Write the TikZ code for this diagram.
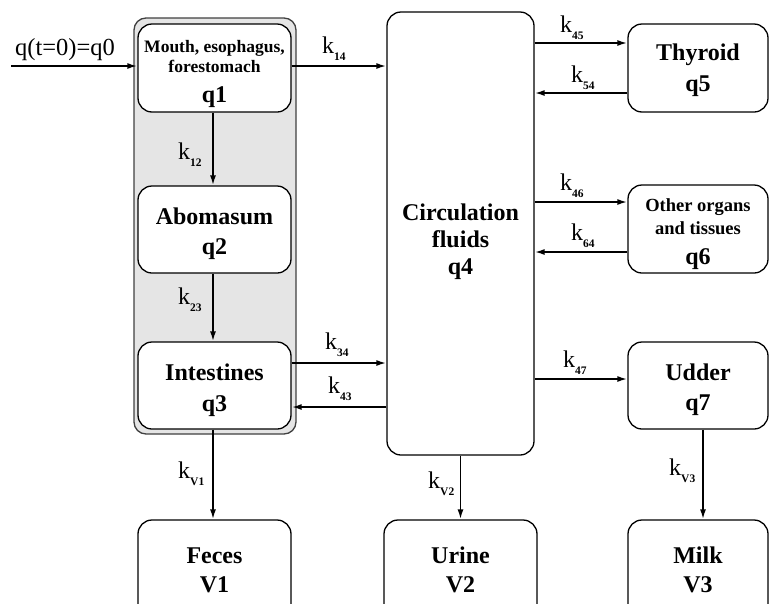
\documentclass[tikz,border=0pt]{standalone}
\usepackage{fontspec}
\setmainfont{Liberation Serif}
\usetikzlibrary{arrows.meta,calc}
\tikzset{
  box/.style={draw=black,line width=1.3pt,fill=white,rounded corners=14pt,
    minimum width=153pt,minimum height=88pt,align=center,inner sep=0pt,
    font=\fontsize{24}{30.5}\selectfont\bfseries},
  arr/.style={line width=1.8pt,-{Latex[length=10pt,width=6pt]}},
  klab/.style={anchor=base west,inner sep=0pt,font=\fontsize{24}{24}\selectfont}
}
\newcommand{\kk}[1]{k\raisebox{-7pt}{\fontsize{11.5}{11.5}\selectfont\bfseries #1}}
\newcommand{\dn}[1]{\rule{0pt}{#1}}
\begin{document}
\begin{tikzpicture}[x=1pt,y=-1pt]
\useasboundingbox (0,0) rectangle (769,603);
\clip (0,0) rectangle (769,603);
% grey container
\node[draw=black!75,line width=1.3pt,fill=black!10,rounded corners=12pt,
  minimum width=162pt,minimum height=416pt,inner sep=0pt] (gut) at (215,226) {};
% boxes
\node[box] (q1) at (214.5,68) {\dn{24pt}\fontsize{17.5}{20}\selectfont Mouth, esophagus,\\[-10.5pt]\fontsize{17.5}{20}\selectfont forestomach\\[0pt]q1};
\node[box,minimum height=87pt] (q2) at (214.5,229.5) {\dn{25pt}Abomasum\\q2};
\node[box,minimum height=87pt] (q3) at (214.5,385.5) {\dn{26pt}Intestines\\q3};
\node[box,minimum height=100pt] (v1) at (214.5,570) {Feces\\[-1.5pt]V1};
\node[box,minimum width=147pt,minimum height=443pt] (q4) at (460.5,233.5) {\\[2.5pt]Circulation\\[-3.5pt]fluids\\[-3.5pt]q4};
\node[box,minimum height=100pt] (v2) at (460.5,570) {Urine\\[-1.5pt]V2};
\node[box,minimum width=140pt] (q5) at (698,68) {\dn{21pt}Thyroid\\q5};
\node[box,minimum width=140pt] (q6) at (698,229) {\dn{23pt}\fontsize{18.5}{23}\selectfont Other organs\\[-7.5pt]\fontsize{18.5}{23}\selectfont and tissues\\[-1pt]q6};
\node[box,minimum width=140pt,minimum height=87pt] (q7) at (698,385.5) {\dn{25pt}Udder\\[-1pt]q7};
\node[box,minimum width=140pt,minimum height=100pt] (v3) at (698,570) {Milk\\[-1.5pt]V3};
% input
\coordinate (in) at (11,66);
\node[anchor=base west,inner sep=0pt,font=\fontsize{24.5}{24}\selectfont] (inlab) at (15,55) {q(t=0)=q0};
\draw[arr] (in) -- (in -| q1.west);
% arrows
\draw[arr] ([yshift=2pt]q1.east) -- ([yshift=2pt]q1.east -| q4.west);
\draw[arr] ([xshift=-1.5pt]q1.south) -- ([xshift=-1.5pt]q2.north);
\draw[arr] ([xshift=-1.5pt]q2.south) -- ([xshift=-1.5pt]q3.north);
\draw[arr] ([yshift=22.5pt]q3.east) -- ([yshift=22.5pt]q3.east -| q4.west);
\draw[arr] ([yshift=-21.5pt]q3.east -| q4.west) -- ([yshift=-21.5pt]q3.east);
\draw[arr] ([xshift=-1.5pt]q3.south) -- ([xshift=-1.5pt]v1.north);
\draw[arr] ([yshift=25pt]q5.west -| q4.east) -- ([yshift=25pt]q5.west);
\draw[arr] ([yshift=-25pt]q5.west) -- ([yshift=-25pt]q5.west -| q4.east);
\draw[arr] ([yshift=27pt]q6.west -| q4.east) -- ([yshift=27pt]q6.west);
\draw[arr] ([yshift=-23pt]q6.west) -- ([yshift=-23pt]q6.west -| q4.east);
\draw[arr] ([yshift=6.5pt]q7.west -| q4.east) -- ([yshift=6.5pt]q7.west);
\draw[arr] (q4.south) -- (v2.north);
\draw[arr] ([xshift=5pt]q7.south) -- ([xshift=5pt]v3.north);
% labels
\node[klab] (l14) at (322,53) {\kk{14}};
\node[klab] (l12) at (178,159) {\kk{12}};
\node[klab] (l23) at (178,304) {\kk{23}};
\node[klab] (l34) at (325,349) {\kk{34}};
\node[klab] (l43) at (328,393) {\kk{43}};
\node[klab] (lv1) at (178,478) {\kk{V1}};
\node[klab] (l45) at (560,32) {\kk{45}};
\node[klab] (l54) at (571,82) {\kk{54}};
\node[klab] (l46) at (560,190) {\kk{46}};
\node[klab] (l64) at (571,240) {\kk{64}};
\node[klab] (l47) at (563,367) {\kk{47}};
\node[klab] (lv2) at (428,488) {\kk{V2}};
\node[klab] (lv3) at (669,475) {\kk{V3}};
\end{tikzpicture}
\end{document}
